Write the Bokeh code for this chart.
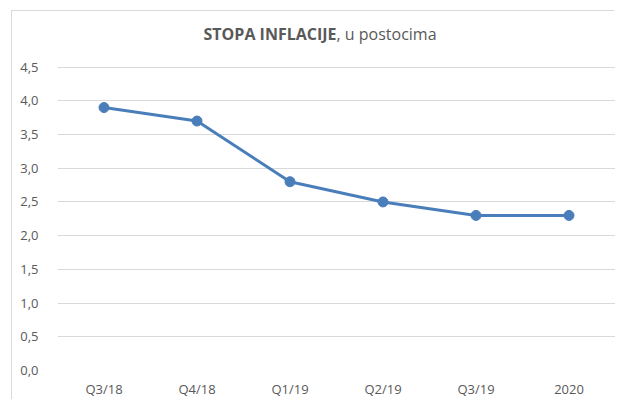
from bokeh.plotting import figure
from bokeh.models import FactorRange, Range1d, FixedTicker, Label, ColumnDataSource
from bokeh.embed import file_html
from bokeh.resources import INLINE

categories = ["Q3/18", "Q4/18", "Q1/19", "Q2/19", "Q3/19", "2020"]
inflation = [3.9, 3.7, 2.8, 2.5, 2.3, 2.3]
y_ticks = [0.0, 0.5, 1.0, 1.5, 2.0, 2.5, 3.0, 3.5, 4.0, 4.5]
y_tick_labels = ["0,0", "0,5", "1,0", "1,5", "2,0", "2,5", "3,0", "3,5", "4,0", "4,5"]
title_bold = "STOPA INFLACIJE"
title_rest = ", u postocima"

FONT = "Open Sans"
TEXT_COLOR = "#595959"
GRID_COLOR = "#d9d9d9"
LINE_COLOR = "#4a7ebb"

src = ColumnDataSource(dict(cat=categories, val=inflation))

# frame extends above the 4.5 gridline so the title sits inside it
p = figure(
    width=603, height=389,
    x_range=FactorRange(*categories, range_padding=0),
    y_range=Range1d(0, 5.31),
    output_backend="svg", toolbar_location=None,
    min_border_left=45, min_border_right=0,
    min_border_top=1, min_border_bottom=29,
)
p.margin = (11, 0, 0, 12)
p.styles = {"box-shadow": "-1px -1px 0px 0px #d9d9d9"}
p.outline_line_color = None
p.background_fill_color = "white"
p.border_fill_color = "white"

p.line("cat", "val", source=src, line_color=LINE_COLOR, line_width=3)
p.scatter("cat", "val", source=src, size=10, fill_color=LINE_COLOR, line_color=LINE_COLOR)

p.xgrid.visible = False
p.ygrid.grid_line_color = GRID_COLOR
p.ygrid.grid_line_width = 1

p.yaxis.ticker = FixedTicker(ticks=y_ticks)
p.yaxis.major_label_overrides = {t: l for t, l in zip(y_ticks, y_tick_labels)}
for ax in (p.xaxis, p.yaxis):
    ax.axis_line_color = None
    ax.major_tick_line_color = None
    ax.minor_tick_line_color = None
    ax.major_label_text_font = FONT
    ax.major_label_text_font_size = "13px"
    ax.major_label_text_color = TEXT_COLOR
p.yaxis.major_label_standoff = 13
p.xaxis.major_label_standoff = 3

# title: bold part ends / regular part starts midway between Q1/19 and Q2/19
p.add_layout(Label(x=3.0, y=4.985, text=title_bold,
                   text_font=FONT, text_font_size="16px", text_font_style="bold",
                   text_color=TEXT_COLOR, text_align="right", text_baseline="middle"))
p.add_layout(Label(x=3.0, y=4.985, text=title_rest,
                   text_font=FONT, text_font_size="16px", text_font_style="normal",
                   text_color=TEXT_COLOR, text_align="left", text_baseline="middle"))

open("out.html", "w").write(file_html(p, INLINE))
